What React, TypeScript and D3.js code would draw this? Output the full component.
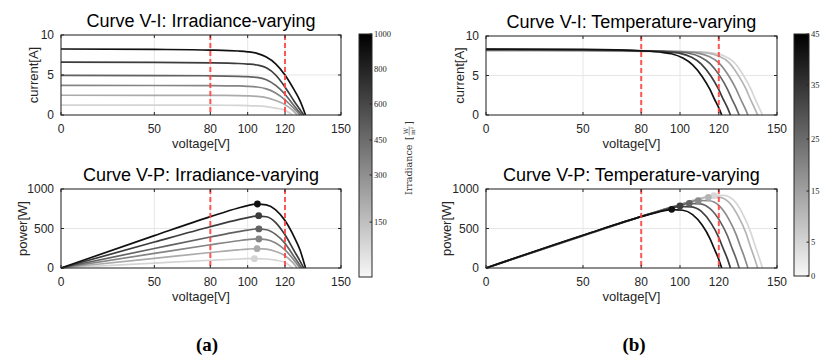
import React from 'react';
import * as d3 from 'd3';

// shared axes
const voltageTicks = [0, 50, 80, 100, 120, 150];
const currentTicks = [0, 5, 10];
const powerTicks = [0, 500, 1000];
const windowVoltages = [80, 120];

// (a) irradiance-varying curves, darkest first
const irrLevels = [1000, 800, 600, 450, 300, 150];
const irrColors = ['#111111', '#3c3c3c', '#626262', '#858585', '#ababab', '#d4d4d4'];
const irrVoltage = [
    [0, 50, 80, 95, 100, 105, 110, 115, 120, 125, 128, 131],
    [0, 50, 80, 95, 100, 105, 110, 115, 120, 125, 128, 130],
    [0, 50, 80, 95, 100, 105, 110, 115, 120, 124, 127, 129],
    [0, 50, 80, 95, 100, 105, 110, 115, 120, 124, 128],
    [0, 50, 80, 95, 100, 105, 110, 115, 120, 124, 126.5],
    [0, 50, 80, 95, 100, 104, 110, 115, 120, 124],
];
const irrCurrent = [
    [8.25, 8.2, 8.12, 8.0, 7.9, 7.7, 7.25, 6.4, 5.0, 3.1, 1.8, 0],
    [6.6, 6.57, 6.52, 6.44, 6.37, 6.25, 5.9, 5.0, 3.5, 1.7, 0.7, 0],
    [4.95, 4.93, 4.9, 4.84, 4.79, 4.7, 4.4, 3.7, 2.6, 1.4, 0.55, 0],
    [3.7, 3.69, 3.67, 3.63, 3.59, 3.5, 3.27, 2.75, 1.9, 1.0, 0],
    [2.47, 2.46, 2.45, 2.42, 2.39, 2.33, 2.17, 1.82, 1.3, 0.6, 0],
    [1.24, 1.235, 1.225, 1.2, 1.18, 1.14, 1.04, 0.86, 0.58, 0],
];
const irrPower = [
    [0, 410, 650, 760, 790, 809, 798, 736, 600, 388, 230, 0],
    [0, 329, 522, 612, 637, 656, 649, 575, 420, 213, 90, 0],
    [0, 247, 392, 460, 479, 494, 484, 426, 312, 174, 70, 0],
    [0, 185, 294, 345, 359, 368, 360, 316, 228, 124, 0],
    [0, 123, 196, 230, 239, 245, 239, 209, 156, 74, 0],
    [0, 62, 98, 114, 118, 119, 114, 99, 70, 0],
];
const irrMppVoltage = [105.2, 105.9, 106, 106, 105, 103.6];
const irrMppPower = [810, 662, 494, 367, 244, 118];
const irrBarTicks = [150, 300, 450, 600, 800, 1000];

// (b) temperature-varying curves, darkest first
const tempLevels = [45, 35, 25, 15, 5, 0];
const tempColors = ['#111111', '#3d3d3d', '#636363', '#8b8b8b', '#b4b4b4', '#d6d6d6'];
const tempVoltage = [
    [0, 50, 81.5, 91.5, 95.5, 101.5, 106.5, 111.5, 115.5, 117.5, 120, 121.5],
    [0, 50, 86, 96, 100, 106, 111, 116, 120, 122, 124.5, 126],
    [0, 50, 90.5, 100.5, 104.5, 110.5, 115.5, 120.5, 124.5, 126.5, 129, 130.5],
    [0, 50, 95, 105, 109, 115, 120, 125, 129, 131, 133.5, 135],
    [0, 50, 100, 110, 114, 120, 125, 130, 134, 136, 138.5, 140],
    [0, 50, 102.5, 112.5, 116.5, 122.5, 127.5, 132.5, 136.5, 138.5, 141, 142.5],
];
const tempCurrent = [
    [8.35, 8.3, 8.1, 7.9, 7.75, 7.2, 6.35, 4.85, 3.2, 2.15, 0.9, 0],
    [8.3, 8.26, 8.08, 7.92, 7.8, 7.3, 6.45, 4.9, 3.2, 2.15, 0.9, 0],
    [8.25, 8.22, 8.07, 7.93, 7.82, 7.35, 6.5, 4.95, 3.25, 2.15, 0.88, 0],
    [8.2, 8.18, 8.06, 7.94, 7.84, 7.4, 6.6, 5.0, 3.25, 2.15, 0.86, 0],
    [8.14, 8.12, 8.04, 7.95, 7.86, 7.45, 6.7, 5.05, 3.3, 2.15, 0.84, 0],
    [8.12, 8.1, 8.03, 7.95, 7.87, 7.5, 6.75, 5.1, 3.3, 2.15, 0.82, 0],
];
const tempPower = [
    [0, 415, 660, 723, 740, 731, 676, 541, 370, 253, 108, 0],
    [0, 413, 695, 760, 780, 774, 716, 568, 384, 262, 112, 0],
    [0, 411, 730, 797, 817, 812, 751, 596, 405, 272, 114, 0],
    [0, 409, 766, 834, 855, 851, 792, 625, 419, 282, 115, 0],
    [0, 406, 804, 875, 896, 894, 838, 657, 442, 292, 116, 0],
    [0, 405, 823, 894, 917, 919, 861, 676, 450, 298, 116, 0],
];
const tempMppVoltage = [95.7, 100, 104.8, 109.4, 114.6, 117.5];
const tempMppPower = [743, 785, 819, 852, 895, 915];
const tempBarTicks = [0, 5, 15, 25, 35, 45];

const SANS = '"Liberation Sans", Arial, Helvetica, sans-serif';
const SERIF = '"Liberation Serif", "Times New Roman", serif';
const AXIS = '#262626';

const SubPlot = ({
    left, top, width, height, title, yLabel, yLabelGap, yMax, yTicks,
    volts, values, colors, mppV, mppY,
}) => {
    const x = d3.scaleLinear().domain([0, 150]).range([left, left + width]);
    const y = d3.scaleLinear().domain([0, yMax]).range([top + height, top]);
    const line = d3.line().x((d) => x(d[0])).y((d) => y(d[1])).curve(d3.curveMonotoneX);
    const bottom = top + height;
    const right = left + width;
    // draw light curves first so the dark ones sit on top
    const order = d3.range(volts.length).reverse();

    return (
        <g>
            <text x={(left + right) / 2} y={top - 8.5} textAnchor="middle" fontFamily={SANS} fontSize={18} fill="#000">{title}</text>
            {voltageTicks.map((t) => (
                <line key={`gx${t}`} x1={x(t)} x2={x(t)} y1={top} y2={bottom} stroke="#e6e6e6" strokeWidth={1} />
            ))}
            {yTicks.map((t) => (
                <line key={`gy${t}`} x1={left} x2={right} y1={y(t)} y2={y(t)} stroke="#e6e6e6" strokeWidth={1} />
            ))}
            {order.map((k) => (
                <path
                    key={`c${k}`}
                    d={line(volts[k].map((v, i) => [v, values[k][i]]))}
                    fill="none"
                    stroke={colors[k]}
                    strokeWidth={1.7}
                />
            ))}
            {mppV && order.map((k) => (
                <circle key={`m${k}`} cx={x(mppV[k])} cy={y(mppY[k])} r={3.4} fill={colors[k]} />
            ))}
            {windowVoltages.map((v) => (
                <line key={`r${v}`} x1={x(v)} x2={x(v)} y1={top} y2={bottom} stroke="#ff4545" strokeOpacity={0.9} strokeWidth={2} strokeDasharray="5,3" />
            ))}
            <rect x={left} y={top} width={width} height={height} fill="none" stroke={AXIS} strokeWidth={1} />
            {voltageTicks.map((t) => (
                <g key={`tx${t}`}>
                    <line x1={x(t)} x2={x(t)} y1={bottom} y2={bottom - 3} stroke={AXIS} />
                    <line x1={x(t)} x2={x(t)} y1={top} y2={top + 3} stroke={AXIS} />
                    <text x={x(t)} y={bottom + 17.5} textAnchor="middle" fontFamily={SANS} fontSize={12} fill={AXIS}>{t}</text>
                </g>
            ))}
            {yTicks.map((t) => (
                <g key={`ty${t}`}>
                    <line x1={left} x2={left + 3} y1={y(t)} y2={y(t)} stroke={AXIS} />
                    <line x1={right} x2={right - 3} y1={y(t)} y2={y(t)} stroke={AXIS} />
                    <text x={left - 7} y={y(t)} dy="0.35em" textAnchor="end" fontFamily={SANS} fontSize={12} fill={AXIS}>{t}</text>
                </g>
            ))}
            <text x={(left + right) / 2} y={bottom + 33} textAnchor="middle" fontFamily={SANS} fontSize={13} fill={AXIS}>voltage[V]</text>
            <text
                transform={`translate(${left - yLabelGap},${(top + bottom) / 2}) rotate(-90)`}
                textAnchor="middle"
                fontFamily={SANS}
                fontSize={13}
                fill={AXIS}
            >
                {yLabel}
            </text>
        </g>
    );
};

const ColorBar = ({ id, x0, y0, w, h, ticks, fracs }) => {
    // tick spacing on these bars is not even, so map each label to its place
    const y = d3.scaleLinear().domain(ticks).range(fracs.map((f) => y0 + h - f * h));
    return (
        <g>
            <defs>
                <linearGradient id={id} x1="0" y1="1" x2="0" y2="0">
                    <stop offset="0" stopColor="#f7f7f7" />
                    <stop offset="1" stopColor="#000000" />
                </linearGradient>
            </defs>
            <rect x={x0} y={y0} width={w} height={h} fill={`url(#${id})`} stroke={AXIS} strokeWidth={1} />
            {ticks.map((t) => (
                <g key={t}>
                    <line x1={x0 + w} x2={x0 + w - 2.5} y1={y(t)} y2={y(t)} stroke={AXIS} />
                    <text x={x0 + w + 2} y={y(t)} dy="0.35em" fontFamily={SERIF} fontSize={8.5} fill={AXIS}>{t}</text>
                </g>
            ))}
        </g>
    );
};

const App = () => (
    <div style={{ position: 'absolute', left: 0, top: 0 }}>
        <svg width={828} height={358} style={{ display: 'block', background: '#fff' }}>
            <SubPlot
                left={61} top={35} width={280} height={80}
                title="Curve V-I: Irradiance-varying" yLabel="current[A]" yLabelGap={23}
                yMax={10} yTicks={currentTicks}
                volts={irrVoltage} values={irrCurrent} colors={irrColors}
            />
            <SubPlot
                left={61} top={189} width={280} height={79}
                title="Curve V-P: Irradiance-varying" yLabel="power[W]" yLabelGap={34}
                yMax={1000} yTicks={powerTicks}
                volts={irrVoltage} values={irrPower} colors={irrColors}
                mppV={irrMppVoltage} mppY={irrMppPower}
            />
            <SubPlot
                left={486} top={36} width={291} height={79}
                title="Curve V-I: Temperature-varying" yLabel="current[A]" yLabelGap={22}
                yMax={10} yTicks={currentTicks}
                volts={tempVoltage} values={tempCurrent} colors={tempColors}
            />
            <SubPlot
                left={486} top={189} width={291} height={79}
                title="Curve V-P: Temperature-varying" yLabel="power[W]" yLabelGap={35}
                yMax={1000} yTicks={powerTicks}
                volts={tempVoltage} values={tempPower} colors={tempColors}
                mppV={tempMppVoltage} mppY={tempMppPower}
            />

            <ColorBar id="irrBar" x0={359} y0={34} w={13} h={243} ticks={irrBarTicks} fracs={[0.226, 0.42, 0.564, 0.712, 0.856, 1]} />
            <ColorBar id="tempBar" x0={794} y0={34} w={15} h={242} ticks={tempBarTicks} fracs={[0, 0.14, 0.351, 0.566, 0.789, 1]} />

            {/* colorbar label with the W/m² fraction stacked */}
            <g transform="translate(412,154) rotate(-90)" fontFamily='"DejaVu Serif", serif' fill="#333">
                <text x={-41} y={0} fontSize={9.5}>Irradiance</text>
                <text x={14} y={0} fontSize={9.5}>[</text>
                <text x={23} y={-4} textAnchor="middle" fontSize={6}>W</text>
                <line x1={18.5} x2={27.5} y1={-2.8} y2={-2.8} stroke="#333" strokeWidth={0.5} />
                <text x={23} y={2.8} textAnchor="middle" fontSize={6}>m²</text>
                <text x={29} y={0} fontSize={9.5}>]</text>
            </g>

            <text x={207} y={351} textAnchor="middle" fontFamily={SERIF} fontWeight="bold" fontSize={19} fill="#000">(a)</text>
            <text x={634} y={351} textAnchor="middle" fontFamily={SERIF} fontWeight="bold" fontSize={19} fill="#000">(b)</text>
        </svg>
    </div>
);

export default App;
